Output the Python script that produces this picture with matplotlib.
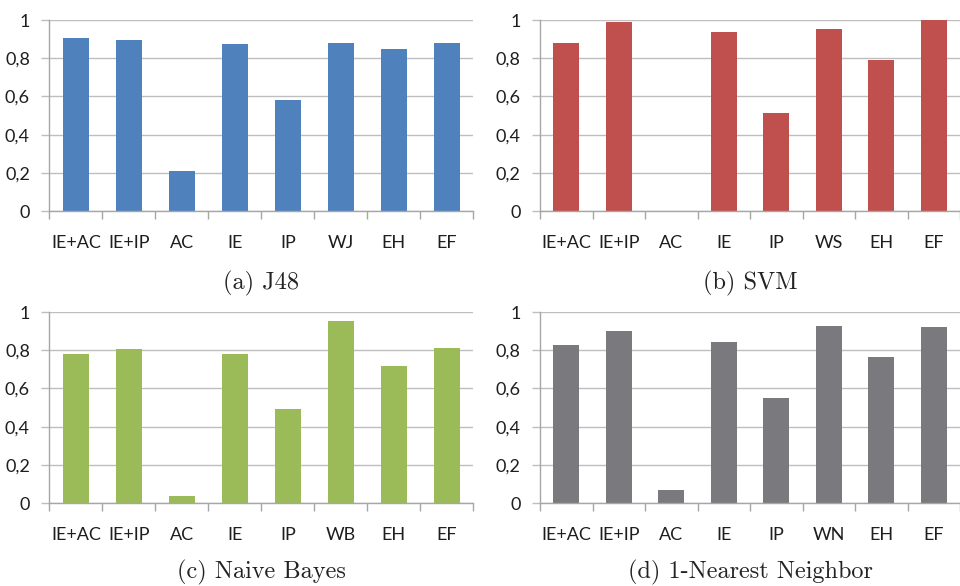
import matplotlib
matplotlib.use("Agg")
import matplotlib.pyplot as plt
from matplotlib.ticker import FixedLocator

# Per-classifier scores for each feature set
cats_j48 = ["IE+AC", "IE+IP", "AC", "IE", "IP", "WJ", "EH", "EF"]
vals_j48 = [0.906, 0.894, 0.208, 0.876, 0.583, 0.881, 0.848, 0.878]

cats_svm = ["IE+AC", "IE+IP", "AC", "IE", "IP", "WS", "EH", "EF"]
vals_svm = [0.880, 0.990, 0.0, 0.937, 0.513, 0.953, 0.791, 1.0]

cats_nb = ["IE+AC", "IE+IP", "AC", "IE", "IP", "WB", "EH", "EF"]
vals_nb = [0.780, 0.806, 0.037, 0.780, 0.492, 0.953, 0.717, 0.812]

cats_nn = ["IE+AC", "IE+IP", "AC", "IE", "IP", "WN", "EH", "EF"]
vals_nn = [0.827, 0.901, 0.068, 0.843, 0.550, 0.927, 0.764, 0.921]

y_ticks = [0, 0.2, 0.4, 0.6, 0.8, 1.0]
y_labels = ["0", "0,2", "0,4", "0,6", "0,8", "1"]

panels = [
    (cats_j48, vals_j48, "#4F81BD", "(a) J48", [0.0514, 0.6399, 0.4417, 0.3259], -0.38),
    (cats_svm, vals_svm, "#C0504D", "(b) SVM", [0.5625, 0.6399, 0.4375, 0.3259], -0.38),
    (cats_nb, vals_nb, "#9BBB59", "(c) Naive Bayes", [0.0514, 0.1416, 0.4417, 0.3259], -0.365),
    (cats_nn, vals_nn, "#7A7A7E", "(d) 1-Nearest Neighbor", [0.5625, 0.1416, 0.4375, 0.3259], -0.365),
]

label_font = "Lato"
grid_col = "#BEBEBE"
axis_col = "#A6A6A6"
text_col = "#1E1E1E"

fig = plt.figure(figsize=(9.6, 5.86), dpi=100)

for cats, vals, color, caption, rect, cap_y in panels:
    ax = fig.add_axes(rect)
    x = list(range(len(cats)))
    ax.bar(x, vals, width=0.5, color=color, zorder=3)
    ax.set_xlim(-0.5, len(cats) - 0.5)
    ax.set_ylim(0, 1)

    ax.set_yticks(y_ticks)
    ax.set_yticklabels(y_labels, fontfamily=label_font, fontsize=13, color=text_col)
    ax.tick_params(axis="y", length=6, width=1, color=grid_col, pad=8)
    ax.yaxis.grid(True, color=grid_col, linewidth=1, zorder=0)

    ax.set_xticks(x)
    ax.set_xticklabels(cats, fontfamily=label_font, fontsize=13, color=text_col)
    ax.tick_params(axis="x", which="major", length=0, pad=17)
    ax.xaxis.set_minor_locator(FixedLocator([i - 0.5 for i in range(len(cats) + 1)]))
    ax.tick_params(axis="x", which="minor", length=6, width=1, color=axis_col)

    for side in ("top", "right"):
        ax.spines[side].set_visible(False)
    for side in ("left", "bottom"):
        ax.spines[side].set_color(axis_col)
        ax.spines[side].set_linewidth(1)
        ax.spines[side].set_zorder(4)

    ax.text(0.5, cap_y, caption, transform=ax.transAxes, ha="center", va="center",
            fontfamily="cmr10", fontsize=17.5, color="#222222")

fig.savefig("out.png", dpi=100)
